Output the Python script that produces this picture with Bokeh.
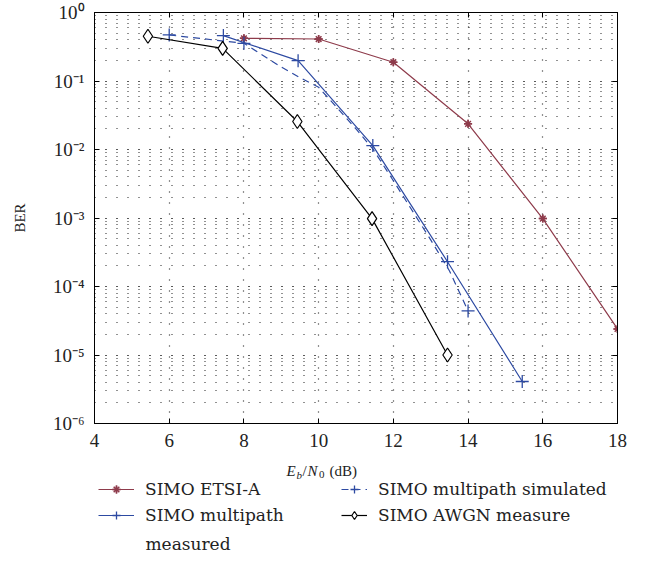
from bokeh.plotting import figure
from bokeh.layouts import column, row
from bokeh.models import (Legend, LegendItem, LinearAxis, LogAxis, FixedTicker,
                          CustomJSTickFormatter, Label, LogTicker, Range1d)
from bokeh.embed import file_html
from bokeh.resources import INLINE

# ---- data ----
etsi_x = [8, 10, 12, 14, 16, 18]
etsi_y = [0.42, 0.41, 0.188, 0.0237, 0.00098, 2.4e-5]

meas_x = [7.45, 9.45, 11.45, 13.45, 15.45]
meas_y = [0.46, 0.198, 0.0114, 2.3e-4, 4.1e-6]

sim_x = [6, 8, 9, 9.5, 10, 11, 11.45, 12, 13, 13.5, 14]
sim_y = [0.47, 0.355, 0.16, 0.112, 0.081, 0.020, 0.0102, 0.0035, 4.8e-4, 1.7e-4, 4.4e-5]
sim_mark_x = [6, 8, 14]
sim_mark_y = [0.47, 0.355, 4.4e-5]

awgn_x = [5.43, 7.43, 9.43, 11.43, 13.45]
awgn_y = [0.45, 0.30, 0.0256, 0.00098, 1.0e-5]

x_ticks = [4, 6, 8, 10, 12, 14, 16, 18]
y_ticks = [1e-6, 1e-5, 1e-4, 1e-3, 1e-2, 1e-1, 1]

labels = ["SIMO ETSI-A", "SIMO multipath", "measured",
          "SIMO multipath simulated", "SIMO AWGN measure"]

# off-screen proxy point so legend swatches can be drawn in the legend strips
proxy = [-1000.0]

SERIF = "Liberation Serif"
LFONT = "DejaVu Serif"
TXT = "#222222"
RED = "#8E3B4B"
BLUE = "#2D4AA2"

W = 633
H_MAIN = 458
H_LEG = 114

# ---------------- main plot ----------------
p = figure(width=W, height=H_MAIN, y_axis_type="log", title=None,
           x_range=Range1d(4, 18), y_range=Range1d(1e-6, 1),
           output_backend="svg", toolbar_location=None,
           min_border_left=94, min_border_right=16, min_border_top=12,
           min_border_bottom=35)
p.outline_line_color = "black"
p.outline_line_width = 1

sup_code = """
const m = {'0':'\u2070','1':'\u00b9','2':'\u00b2','3':'\u00b3','4':'\u2074','5':'\u2075','6':'\u2076','7':'\u2077','8':'\u2078','9':'\u2079','-':'\u207b'};
const e = Math.round(Math.log10(tick));
return '10' + String(e).split('').map(c => m[c]).join('');
"""

xa = p.xaxis[0]
xa.ticker = FixedTicker(ticks=x_ticks)
ya = p.yaxis[0]
ya.ticker = FixedTicker(ticks=y_ticks, minor_ticks=[])
ya.formatter = CustomJSTickFormatter(code=sup_code)
ya.axis_label = "BER"

for ax in (xa, ya):
    ax.major_tick_in = 5
    ax.major_tick_out = 0
    ax.minor_tick_line_color = None
    ax.major_label_text_font = SERIF
    ax.major_label_text_font_size = "19px"
    ax.major_label_text_color = TXT
    ax.axis_line_color = "black"
    ax.major_tick_line_color = "black"
    ax.axis_label_text_font = SERIF
    ax.axis_label_text_font_size = "15px"
    ax.axis_label_text_font_style = "normal"
    ax.axis_label_text_color = TXT
xa.major_label_standoff = 10
ya.major_label_standoff = 10
ya.axis_label_standoff = 22

blank = CustomJSTickFormatter(code="return '';")
top = LinearAxis(ticker=FixedTicker(ticks=x_ticks), formatter=blank,
                 major_tick_in=5, major_tick_out=0, minor_tick_line_color=None,
                 major_label_standoff=0, major_label_text_font_size="0px")
right = LogAxis(ticker=FixedTicker(ticks=y_ticks, minor_ticks=[]), formatter=blank,
                major_tick_in=5, major_tick_out=0, minor_tick_line_color=None,
                major_label_standoff=0, major_label_text_font_size="0px")
p.add_layout(top, "above")
p.add_layout(right, "right")

for g in (p.xgrid, p.ygrid):
    g.grid_line_color = "#222222"
    g.grid_line_dash = "1 10"
    g.grid_line_width = 1.2
p.xgrid.ticker = FixedTicker(ticks=x_ticks)
p.ygrid.ticker = LogTicker(num_minor_ticks=10)
p.ygrid.minor_grid_line_color = "#222222"
p.ygrid.minor_grid_line_dash = "1 10"
p.ygrid.minor_grid_line_width = 1.2


def style_etsi(f, xs, ys):
    return [f.line(xs, ys, line_color=RED, line_width=1.2),
            f.scatter(xs, ys, marker="asterisk", size=8, line_color=RED, line_width=1.5),
            f.scatter(xs, ys, marker="cross", size=8, line_color=RED, line_width=1.5)]


def style_meas(f, xs, ys):
    return [f.line(xs, ys, line_color=BLUE, line_width=1.2),
            f.scatter(xs, ys, marker="cross", size=13, line_color=BLUE, line_width=1.3)]


def style_sim(f, xs, ys, mx, my):
    return [f.line(xs, ys, line_color=BLUE, line_width=1.2, line_dash="7 5"),
            f.scatter(mx, my, marker="cross", size=13, line_color=BLUE, line_width=1.3)]


def style_awgn(f, xs, ys):
    return [f.line(xs, ys, line_color="black", line_width=1.2),
            f.scatter(xs, ys, marker="diamond", size=14, line_color="black",
                      fill_color="white", line_width=1.2)]


style_etsi(p, etsi_x, etsi_y)
style_meas(p, meas_x, meas_y)
style_sim(p, sim_x, sim_y, sim_mark_x, sim_mark_y)
style_awgn(p, awgn_x, awgn_y)


def blank_fig(w, h, left):
    f = figure(width=w, height=h, title=None, output_backend="svg",
               toolbar_location=None, x_axis_type=None, y_axis_type=None,
               min_border_left=left, min_border_top=0, min_border_bottom=0,
               min_border_right=0,
               x_range=Range1d(0, w - left), y_range=Range1d(0, h))
    f.outline_line_color = None
    f.grid.grid_line_color = None
    return f


leg_kw = dict(border_line_color=None, background_fill_alpha=0,
              label_text_font=LFONT, label_text_font_size="17px", label_text_color=TXT,
              glyph_height=20, label_standoff=11, spacing=6,
              padding=0, margin=0, label_height=20)

# ---------------- left strip: first legend column ----------------
W3 = 284
p3 = blank_fig(W3, H_LEG, 98)
r_etsi = style_etsi(p3, proxy, proxy)
r_meas = style_meas(p3, proxy, proxy)
leg1 = Legend(items=[LegendItem(label=labels[0], renderers=r_etsi),
                     LegendItem(label=labels[1], renderers=r_meas)],
              location=(0, 47), glyph_width=36, **leg_kw)
p3.add_layout(leg1)
p3.add_layout(Label(x=47, y=29, text=labels[2], text_font=LFONT,
                    text_font_size="17px", text_color=TXT, text_baseline="middle"))

# ---------------- right strip: x-axis label + second legend column ----------------
p4 = blank_fig(W - W3, H_LEG, 0)
r_sim = style_sim(p4, proxy, proxy, proxy, proxy)
r_awgn = style_awgn(p4, proxy, proxy)
leg2 = Legend(items=[LegendItem(label=labels[3], renderers=r_sim),
                     LegendItem(label=labels[4], renderers=r_awgn)],
              location=(57, 47), glyph_width=26, **leg_kw)
p4.add_layout(leg2)

# E_b/N_0 (dB)
pieces = [
    ("E", 2, 102, "15px", "italic"),
    ("b", 12, 98, "11px", "italic"),
    ("/", 18, 102, "15px", "normal"),
    ("N", 23, 102, "15px", "italic"),
    ("0", 34.5, 98, "11px", "normal"),
    ("(dB)", 45, 102, "15px", "normal"),
]
for t, xp, yp, fs, st in pieces:
    p4.add_layout(Label(x=xp, y=yp, text=t, text_font=SERIF,
                        text_font_size=fs, text_font_style=st, text_color=TXT,
                        text_baseline="alphabetic"))

layout = column(p, row(p3, p4, spacing=0), spacing=0)
open("out.html", "w").write(file_html(layout, INLINE))
